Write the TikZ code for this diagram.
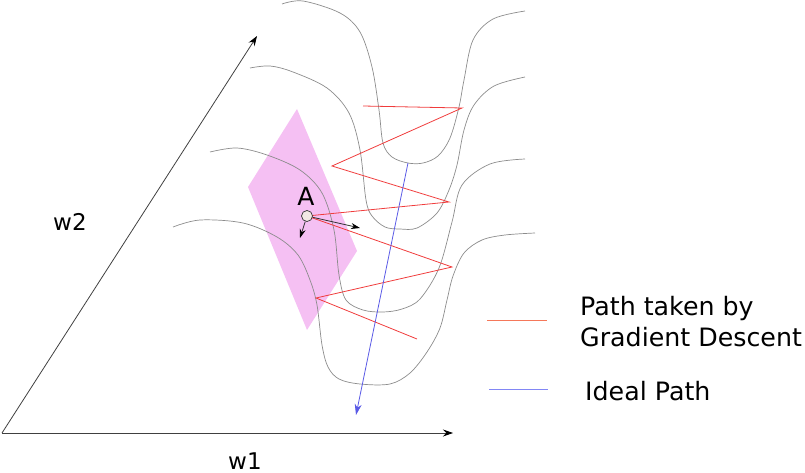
\documentclass[tikz,border=0pt]{standalone}
\usepackage{fontspec}
\setmainfont{DejaVu Sans}
\usetikzlibrary{arrows.meta}
\definecolor{contour}{RGB}{140,140,140}
\definecolor{planefill}{RGB}{245,192,243}
\definecolor{gdred}{RGB}{240,60,60}
\definecolor{idealblue}{RGB}{90,90,230}
\definecolor{legred}{RGB}{245,120,90}
\definecolor{legblue}{RGB}{130,135,245}
\definecolor{dotfill}{RGB}{242,232,228}
\tikzset{
  axis/.style={black!75, line width=0.8pt, -{Stealth[length=10pt,width=7pt,black]}},
  contourline/.style={contour, line width=0.7pt},
  gdpath/.style={gdred, line width=0.8pt, line join=miter},
  idealpath/.style={idealblue, line width=0.8pt, -{Stealth[length=11pt,width=7pt]}},
  gradarrow/.style={black!80, line width=0.8pt, -{Stealth[length=9pt,width=6pt,black]}},
  dotnode/.style={circle, draw=black!80, fill=dotfill, line width=0.7pt, minimum size=11pt, inner sep=0pt},
  axislabel/.style={font=\fontsize{23}{27}\selectfont, inner sep=0pt},
  legendtext/.style={font=\fontsize{25.3}{31}\selectfont, inner sep=0pt, anchor=base west},
}
\begin{document}
\begin{tikzpicture}[x=1pt,y=-1pt]
\useasboundingbox (0,0) rectangle (805,473);
% axes
\coordinate (O) at (2,433);
\coordinate (X) at (453,433);
\coordinate (Y) at (257,36);
\draw[axis] (O) -- (X);
\draw[axis] (O) -- (Y);
\node[axislabel, anchor=base west] (w2) at (53,230) {w2};
\node[axislabel, anchor=base west] (w1) at (228,469) {w1};
% tangent plane
\fill[planefill] (297,109) -- (248,187) -- (307,330) -- (357,251) -- cycle;
% contours
\draw[contourline] plot[smooth, tension=0.55] coordinates {(282,4) (303,1) (340,13) (360,32) (372,67) (379,110) (383,143) (392,157) (408,163) (423,163) (438,156) (450,138) (459,107) (464,80) (473,40) (493,19) (525,11)};
\draw[contourline] plot[smooth, tension=0.55] coordinates {(250,68) (270,66) (293,72) (327,88) (349,113) (360,150) (366,200) (372,216) (385,227) (400,229) (417,228) (437,213) (449,190) (457,165) (464,130) (474,105) (494,86) (525,77)};
\draw[contourline] plot[smooth, tension=0.55] coordinates {(210,152) (237,148) (267,155) (300,170) (322,193) (334,230) (339,275) (346,300) (363,310) (383,312) (402,309) (420,299) (439,268) (452,222) (462,185) (490,164) (525,159)};
\draw[contourline] plot[smooth, tension=0.55] coordinates {(173,227) (200,220) (243,223) (277,237) (298,255) (310,280) (317,305) (322,345) (328,367) (339,379) (360,384) (390,384) (410,373) (427,352) (440,328) (447,300) (453,276) (464,253) (482,240) (505,235) (535,233)};
% gradient descent path
\coordinate (pA) at (307,216);
\draw[gdpath] (363,106) -- (462,108) -- (332,166) -- (449,202) -- (pA) -- (452,267) -- (316,298) -- (417,339);
% ideal path
\coordinate (is) at (408,163);
\coordinate (ie) at (356,415);
\draw[idealpath] (is) -- (ie);
% point A
\node[dotnode] (A) at (pA) {};
\node[inner sep=0pt, anchor=base, font=\fontsize{25}{30}\selectfont] (Alabel) at (306,205) {A};
\coordinate (g1) at (360,228);
\coordinate (g2) at (300,238);
\draw[gradarrow] (A) -- (g1);
\draw[gradarrow] (A) -- (g2);
% legend
\coordinate (lr1) at (487,320);
\coordinate (lr2) at (547,320);
\coordinate (lb1) at (489,389);
\coordinate (lb2) at (548,389);
\draw[legred, line width=1pt] (lr1) -- (lr2);
\draw[legblue, line width=1pt] (lb1) -- (lb2);
\node[legendtext] (t1) at (580,315) {Path taken by};
\node[legendtext] (t2) at (580,346) {Gradient Descent};
\node[legendtext] (t3) at (585,400) {Ideal Path};
\end{tikzpicture}
\end{document}
